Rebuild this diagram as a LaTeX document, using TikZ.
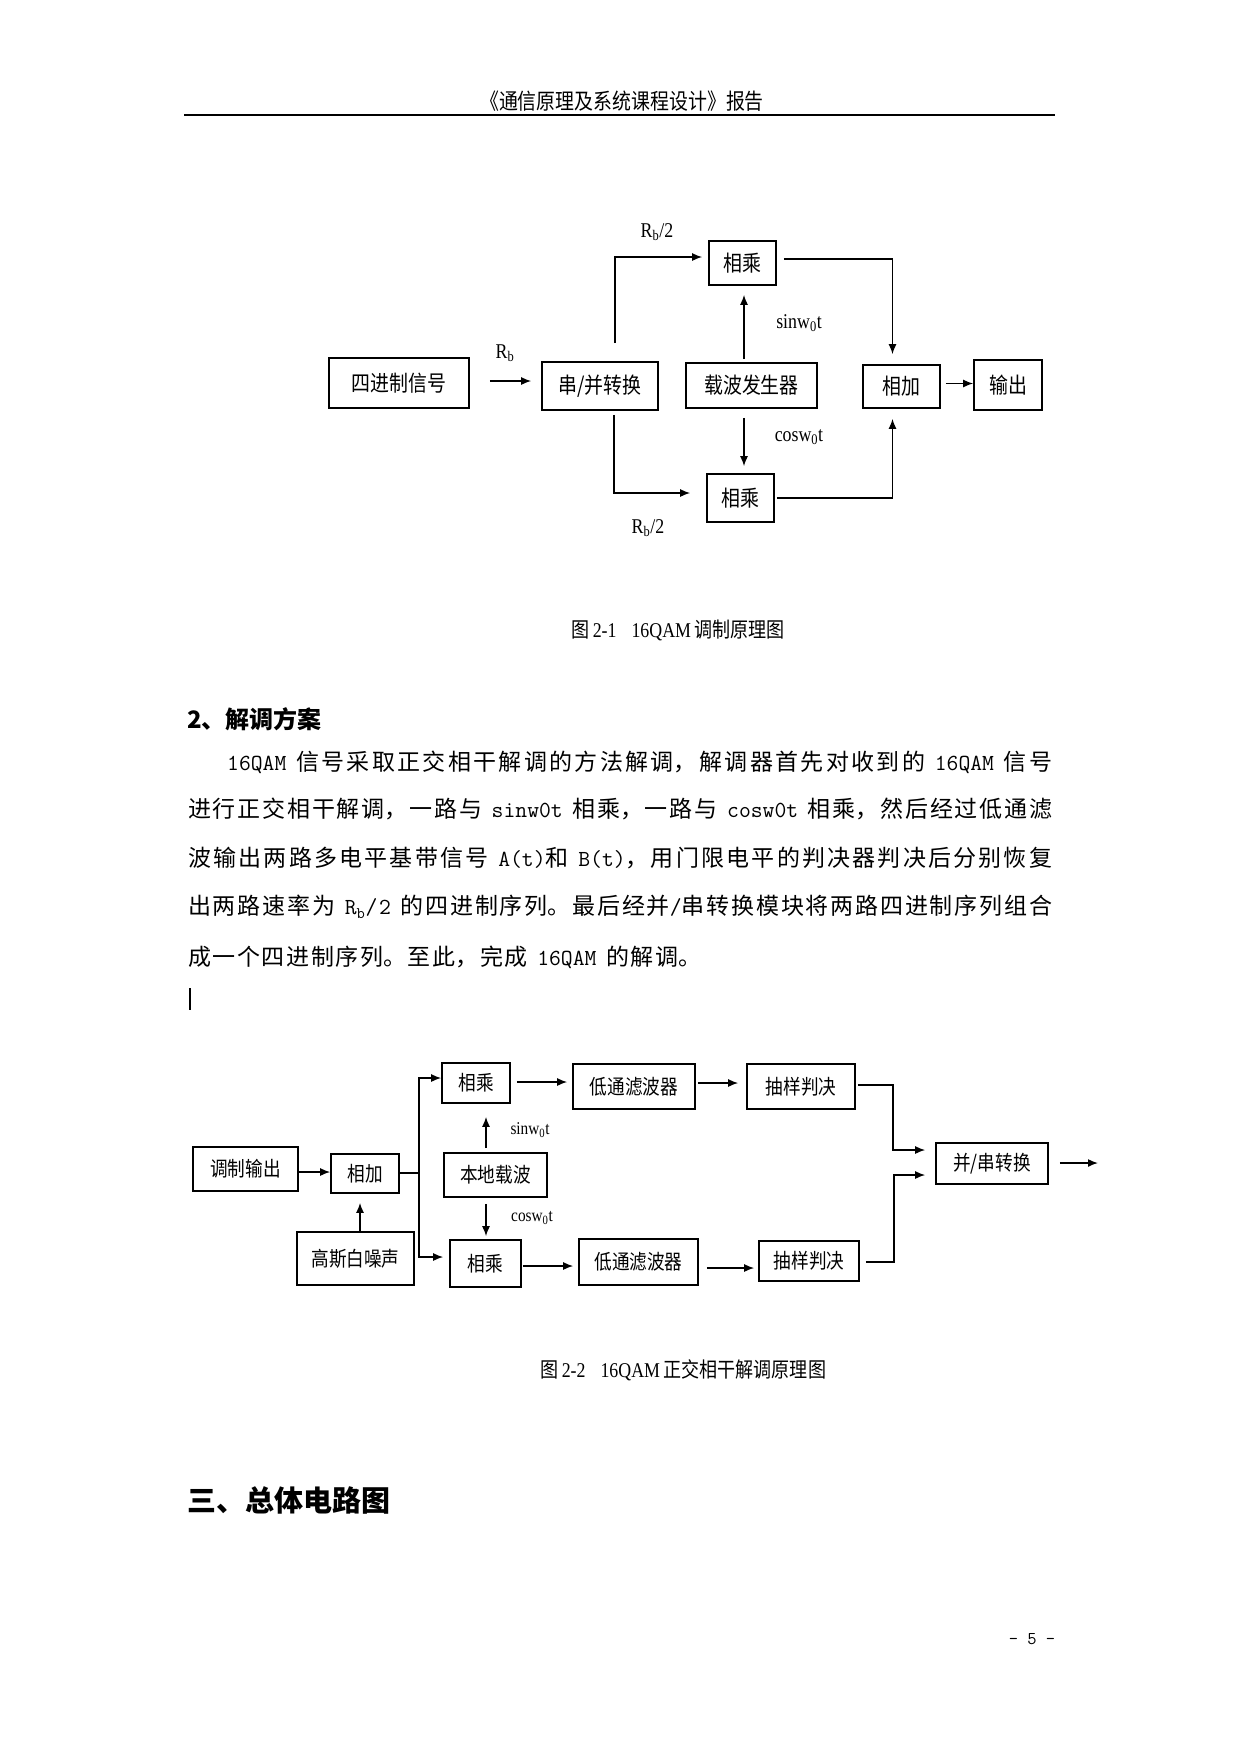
\documentclass[tikz,border=0pt]{standalone}
\usepackage{fontspec}
\usepackage{graphicx}
\setmainfont{Noto Sans CJK SC}
\newfontfamily\cjkn{Noto Sans CJK SC}[FakeStretch=0.86]
\newfontfamily\tnr{Liberation Serif}[FakeStretch=0.85]
\usetikzlibrary{arrows.meta}
\XeTeXlinebreaklocale "zh"
\XeTeXlinebreakskip=0pt plus 6pt
\newcommand\fs[1]{\fontsize{#1}{#1}\selectfont}
\newcommand\mo[1]{{\ttfamily #1}}
\newcommand\hs{\hspace{9pt plus 2pt}}
\newcommand\jl[2]{\parbox{#1pt}{\parfillskip=0pt\parindent=0pt\tolerance=9999\hbadness=10000 #2}}
\begin{document}
\begin{tikzpicture}[x=1pt,y=-1pt,
  box/.style={draw, line width=1.6pt, inner sep=0pt, align=center},
  boxa/.style={box, font=\cjkn\fs{22}},
  boxb/.style={box, font=\cjkn\fs{20.5}},
  arr/.style={line width=1.5pt, -{Latex[length=10pt,width=8pt]}},
  ln/.style={line width=1.5pt},
  lbl/.style={inner sep=0pt, font=\tnr\fs{21}},
  lblb/.style={inner sep=0pt, font=\tnr\fs{18}},
  txt/.style={anchor=west, inner sep=0pt, font=\fs{23}}]
\fill[white] (0,0) rectangle (1241,1754);
\path[use as bounding box] (0,0) rectangle (1241,1754);

% header
\node[inner sep=0pt, font=\cjkn\fs{22}] (hdr) at (622,101) {《通信原理及系统课程设计》报告};
\draw[line width=2.4pt] (184,115) -- (1055,115);

% ---------------- diagram 1 ----------------
\node[boxa, minimum width=140pt, minimum height=50pt] (A) at (399,383) {四进制信号};
\node[boxa, minimum width=116pt, minimum height=48pt] (B) at (600,386) {串/并转换};
\node[boxa, minimum width=131pt, minimum height=45pt] (C) at (751.5,385.5) {载波发生器};
\node[boxa, minimum width=77pt, minimum height=43pt] (D) at (901.5,386.5) {相加};
\node[boxa, minimum width=68pt, minimum height=50pt] (E) at (1008,385) {输出};
\node[boxa, minimum width=67pt, minimum height=44pt] (M1) at (742.5,263) {相乘};
\node[boxa, minimum width=67pt, minimum height=48pt] (M2) at (740.5,498) {相乘};

\draw[arr] ([xshift=20pt,yshift=2pt]A.east) -- ([xshift=-10pt,yshift=5pt]B.west);
\draw[arr] ([xshift=15pt,yshift=18pt]B.north) |- ([xshift=-6pt,yshift=6pt]M1.west);
\draw[arr] ([xshift=14pt,yshift=-4pt]B.south) |- ([xshift=-16pt,yshift=5pt]M2.west);
\draw[arr] ([xshift=-7.5pt,yshift=3pt]C.north) -- ([xshift=1.5pt,yshift=-9pt]M1.south);
\draw[arr] ([xshift=-7.5pt,yshift=-9pt]C.south) -- ([xshift=3.5pt,yshift=7pt]M2.north);
\draw[arr] ([xshift=7pt,yshift=4pt]M1.east) -| ([xshift=-9pt,yshift=10pt]D.north);
\draw[arr] ([xshift=2pt]M2.east) -| ([xshift=-9pt,yshift=-10pt]D.south);
\draw[arr] ([xshift=5pt,yshift=3pt]D.east) -- ([yshift=1.5pt]E.west);

\node[lbl] (lRb) at (505,353) {R\textsubscript{b}};
\node[lbl] (lRt) at (657,232) {R\textsubscript{b}/2};
\node[lbl] (lRd) at (648,528) {R\textsubscript{b}/2};
\node[lbl] (ls1) at (799,323) {sinw\textsubscript{0}t};
\node[lbl] (lc1) at (799,437) {cosw\textsubscript{0}t};

\node[anchor=west, inner sep=0pt, font=\cjkn\fs{21}] (cap1) at (571,630) {图\,{\tnr 2-1}\hspace{15pt}{\tnr 16QAM}\,调制原理图};

% ---------------- text ----------------
\node[anchor=west, inner sep=0pt, font=\bfseries\fs{24}] (h2) at (187,719) {2、解调方案};
\node[txt] (p1) at (227,762) {\jl{825}{\mo{16QAM}\hs 信号采取正交相干解调的方法解调，解调器首先对收到的\hs\mo{16QAM}\hs 信号}};
\node[txt] (p2) at (188,809) {\jl{864}{进行正交相干解调，一路与\hs\mo{sinw0t}\hs 相乘，一路与\hs\mo{cosw0t}\hs 相乘，然后经过低通滤}};
\node[txt] (p3) at (188,858) {\jl{864}{波输出两路多电平基带信号\hs\mo{A(t)}和\hs\mo{B(t)}，用门限电平的判决器判决后分别恢复}};
\node[txt] (p4) at (188,907) {\jl{864}{出两路速率为\hs\mo{R\textsubscript{b}/2}\hs 的四进制序列。最后经并\mo{/}串转换模块将两路四进制序列组合}};
\node[txt] (p5) at (188,957) {\jl{513}{成一个四进制序列。至此，完成\hs\mo{16QAM}\hs 的解调。}};
\draw[line width=2.2pt] (190,988) -- (190,1010);

% ---------------- diagram 2 ----------------
\node[boxb, minimum width=105pt, minimum height=44pt] (P) at (245.5,1169) {调制输出};
\node[boxb, minimum width=68pt, minimum height=39pt] (Q) at (365,1173.5) {相加};
\node[boxb, minimum width=117pt, minimum height=53pt] (N) at (355.5,1258.5) {高斯白噪声};
\node[boxb, minimum width=68pt, minimum height=40pt] (M3) at (476,1083) {相乘};
\node[boxb, minimum width=122pt, minimum height=45pt] (L1) at (634,1086.5) {低通滤波器};
\node[boxb, minimum width=108pt, minimum height=45pt] (S1) at (801,1086.5) {抽样判决};
\node[boxb, minimum width=112pt, minimum height=41pt] (PS) at (992,1163.5) {并/串转换};
\node[boxb, minimum width=103pt, minimum height=44pt] (LO) at (495.5,1175) {本地载波};
\node[boxb, minimum width=71pt, minimum height=47pt] (M4) at (485.5,1263.5) {相乘};
\node[boxb, minimum width=119pt, minimum height=46pt] (L2) at (638.5,1262) {低通滤波器};
\node[boxb, minimum width=100pt, minimum height=40pt] (S2) at (809,1261) {抽样判决};
\coordinate (sp) at (419,1173);
\coordinate (out) at (1098,1163);

\draw[arr] ([yshift=-3pt]P.east) -- ([yshift=1.5pt]Q.west);
\draw[arr] ([xshift=4.5pt]N.north) -- ([xshift=-5pt,yshift=-9pt]Q.south);
\draw[ln] ([yshift=0.5pt]Q.east) -- (sp);
\draw[arr] (sp) |- ([yshift=5pt]M3.west);
\draw[arr] (sp) |- ([xshift=-6pt,yshift=6.5pt]M4.west);
\draw[arr] ([xshift=6pt,yshift=1pt]M3.east) -- ([xshift=-5pt,yshift=4.5pt]L1.west);
\draw[arr] ([xshift=2pt,yshift=3.5pt]L1.east) -- ([xshift=-8pt,yshift=3.5pt]S1.west);
\draw[arr] ([xshift=2pt,yshift=1.5pt]S1.east) -- ++(35,0) |- ([xshift=-10pt,yshift=13.5pt]PS.west);
\draw[arr] ([xshift=6pt,yshift=-1pt]S2.east) -- ++(28,0) |- ([xshift=-10pt,yshift=-11.5pt]PS.west);
\draw[arr] ([xshift=11pt,yshift=0.5pt]PS.east) -- (out);
\draw[arr] ([xshift=-9.5pt,yshift=4pt]LO.north) -- ([xshift=10pt,yshift=-13pt]M3.south);
\draw[arr] ([xshift=-9.5pt,yshift=-6pt]LO.south) -- ([xshift=0.5pt,yshift=3pt]M4.north);
\draw[arr] ([xshift=1pt,yshift=-2.5pt]M4.east) -- ([xshift=-5pt,yshift=-4pt]L2.west);
\draw[arr] ([xshift=8pt,yshift=-6pt]L2.east) -- ([xshift=-4pt,yshift=-7pt]S2.west);

\node[lblb] (ls2) at (530,1130) {sinw\textsubscript{0}t};
\node[lblb] (lc2) at (532,1218) {cosw\textsubscript{0}t};

\node[anchor=west, inner sep=0pt, font=\cjkn\fs{21}] (cap2) at (540,1370) {图\,{\tnr 2-2}\hspace{15pt}{\tnr 16QAM}\,正交相干解调原理图};

\node[anchor=west, inner sep=0pt, font=\bfseries\fs{29}] (h3) at (187,1500) {三、总体电路图};
\node[inner sep=0pt, font=\ttfamily\fs{18}] (pg) at (1032,1639) {- 5 -};
\end{tikzpicture}
\end{document}
